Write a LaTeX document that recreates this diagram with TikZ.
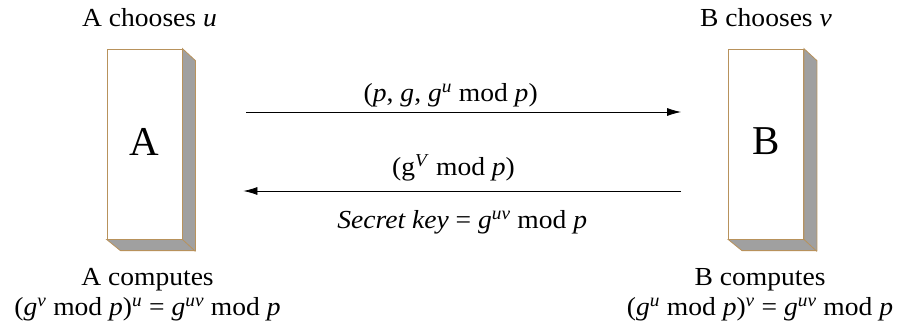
\documentclass[tikz,border=0pt]{standalone}
\usepackage{fontspec}
\setmainfont{Liberation Serif}
\newfontfamily\labelfont[FakeStretch=1.06]{Liberation Serif}
\usetikzlibrary{positioning,arrows.meta}

\newcommand{\pw}[2]{\textit{#1}\textsuperscript{\textit{#2}}}
\definecolor{edgebrown}{HTML}{B8925C}
\definecolor{sidegray}{HTML}{A0A0A0}

\begin{document}
\begin{tikzpicture}[
    x=1pt, y=1pt,
    party/.style={
      draw=edgebrown, fill=white, line width=0.8pt,
      minimum width=75pt, minimum height=190pt, inner sep=0pt,
      font=\fontsize{41}{41}\selectfont
    },
    txt/.style={font=\labelfont\fontsize{26}{30}\selectfont, inner sep=0pt, align=center},
    >={Latex[length=14pt,width=8pt]}
]
  \useasboundingbox (0,0) rectangle (901,325);

  % the two parties
  \node[party] (boxA) at (144.5,181) {\raisebox{5pt}{A}};
  \node[party] (boxB) at (766,181) {\raisebox{5pt}{B}};

  % depth of the boxes
  \foreach \b in {boxA,boxB}{
    \filldraw[fill=sidegray, draw=edgebrown, line width=0.8pt]
      (\b.north east) -- ++(13,-12) -- ++(0,-190) -- ++(-75,0)
      -- (\b.south west) -- (\b.south east) -- cycle;
    \draw[edgebrown, line width=0.8pt] (\b.south east) -- ++(13,-12);
  }

  % labels of the parties
  \node[txt, above=22pt of boxA, xshift=5pt] (chooseA) {A chooses \textit{u}};
  \node[txt, above=22pt of boxB] (chooseB) {B chooses \textit{v}};
  \node[txt, below=29pt of boxA, xshift=3pt] (compA)
    {A computes\\(\pw{g}{v} mod \textit{p})\textsuperscript{\textit{u}} = \pw{g}{uv} mod \textit{p}};
  \node[txt, below=29pt of boxB, xshift=-6pt] (compB)
    {B computes\\(\pw{g}{u} mod \textit{p})\textsuperscript{\textit{v}} = \pw{g}{uv} mod \textit{p}};

  % ends of the messages
  \coordinate (sendL) at ([shift={(64,32)}]boxA.east);
  \coordinate (sendR) at ([shift={(-47,32)}]boxB.west);
  \coordinate (backL) at ([shift={(61,-47)}]boxA.east);
  \coordinate (backR) at ([shift={(-47,-47)}]boxB.west);

  % messages
  \draw[->, line width=0.8pt] (sendL) -- (sendR)
    node[txt, pos=0.47, above=5pt] (sendlbl) {(\textit{p}, \textit{g}, \pw{g}{u} mod \textit{p})};
  \draw[->, line width=0.8pt] (backR) -- (backL)
    node[txt, pos=0.52, above=9pt] (backlbl) {(g\textsuperscript{\textit{V}} mod \textit{p})}
    node[txt, midway, below=19pt] (key) {\textit{Secret key} = \pw{g}{uv} mod \textit{p}};

\end{tikzpicture}
\end{document}
